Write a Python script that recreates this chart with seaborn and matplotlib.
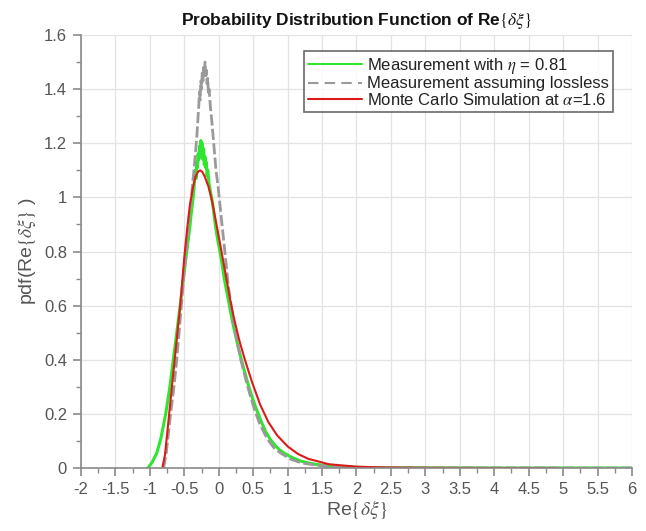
import numpy as np
import pandas as pd
import matplotlib
matplotlib.use("Agg")
import matplotlib.pyplot as plt
from matplotlib.ticker import MultipleLocator
import seaborn as sns

# ---- data ----
green_x = [-1.03, -0.97, -0.90, -0.84, -0.77, -0.71, -0.66, -0.60, -0.55, -0.50, -0.47, -0.44, -0.42, -0.40,
           -0.38, -0.36, -0.345, -0.33, -0.32, -0.31, -0.30, -0.29, -0.28, -0.27, -0.26, -0.25, -0.24, -0.23,
           -0.22, -0.21, -0.20, -0.19, -0.18, -0.17, -0.16, -0.14, -0.12, -0.09, -0.065, -0.045, -0.02, 0.035,
           0.08, 0.14, 0.20, 0.27, 0.34, 0.42, 0.48, 0.55, 0.62, 0.68, 0.75, 0.82, 0.88, 0.95, 1.02, 1.10,
           1.20, 1.30, 1.40, 1.55, 1.80, 2.10, 2.50, 3.00, 3.50, 4.00, 4.50, 5.00, 5.50, 6.00]
green_y = [0.00, 0.02, 0.055, 0.11, 0.20, 0.30, 0.40, 0.52, 0.62, 0.73, 0.79, 0.85, 0.89, 0.94,
           0.98, 1.03, 1.10, 1.07, 1.13, 1.11, 1.16, 1.14, 1.19, 1.15, 1.21, 1.17, 1.20, 1.14,
           1.18, 1.12, 1.15, 1.11, 1.13, 1.08, 1.10, 1.05, 1.02, 0.98, 0.93, 0.89, 0.85, 0.775,
           0.70, 0.62, 0.54, 0.46, 0.39, 0.315, 0.265, 0.215, 0.17, 0.135, 0.105, 0.083, 0.068, 0.055, 0.045, 0.035,
           0.025, 0.019, 0.014, 0.009, 0.004, 0.002, 0.001, 0.0005, 0.0003, 0.0002, 0.0001, 0.0001, 0.0, 0.0]

gray_x = [-0.80, -0.76, -0.70, -0.65, -0.61, -0.56, -0.51, -0.47, -0.43, -0.40, -0.38, -0.36, -0.335, -0.32,
          -0.30, -0.29, -0.28, -0.27, -0.26, -0.25, -0.24, -0.23, -0.22, -0.21, -0.20, -0.19, -0.18, -0.17,
          -0.16, -0.15, -0.14, -0.12, -0.10, -0.08, -0.06, -0.04, -0.01, 0.035, 0.08, 0.14, 0.20, 0.26, 0.32,
          0.40, 0.46, 0.52, 0.60, 0.70, 0.80, 0.90, 1.05, 1.20, 1.40, 1.60, 1.80, 2.20, 2.80, 3.50, 4.50,
          5.50, 6.00]
gray_y = [0.00, 0.06, 0.20, 0.30, 0.40, 0.55, 0.70, 0.805, 0.93, 0.99, 1.05, 1.10, 1.175, 1.22,
          1.30, 1.34, 1.39, 1.36, 1.43, 1.40, 1.46, 1.43, 1.48, 1.45, 1.50, 1.44, 1.47, 1.42,
          1.44, 1.38, 1.40, 1.33, 1.28, 1.22, 1.16, 1.10, 1.04, 0.93, 0.82, 0.67, 0.565, 0.475, 0.40,
          0.32, 0.265, 0.215, 0.16, 0.11, 0.075, 0.055, 0.032, 0.019, 0.011, 0.006, 0.003, 0.001, 0.0005, 0.0002,
          0.0001, 0.0, 0.0]

red_x = [-0.82, -0.78, -0.72, -0.64, -0.56, -0.50, -0.46, -0.42, -0.38, -0.34, -0.30, -0.27, -0.24, -0.20,
         -0.15, -0.10, -0.04, 0.04, 0.10, 0.16, 0.22, 0.30, 0.38, 0.48, 0.60, 0.72, 0.85, 1.00, 1.15, 1.30,
         1.60, 2.00, 2.40, 3.00, 4.00, 4.90]
red_y = [0.00, 0.05, 0.20, 0.40, 0.60, 0.78, 0.88, 0.97, 1.03, 1.075, 1.095, 1.10, 1.095, 1.075,
         1.04, 0.99, 0.91, 0.80, 0.715, 0.63, 0.555, 0.47, 0.40, 0.32, 0.235, 0.17, 0.12, 0.08, 0.052, 0.034,
         0.014, 0.005, 0.002, 0.0007, 0.0, 0.0]

labels = [r"Measurement with $\eta$ = 0.81",
          "Measurement assuming lossless",
          r"Monte Carlo Simulation at $\alpha$=1.6"]
x_ticks = [-2, -1.5, -1, -0.5, 0, 0.5, 1, 1.5, 2, 2.5, 3, 3.5, 4, 4.5, 5, 5.5, 6]
y_ticks = [0, 0.2, 0.4, 0.6, 0.8, 1, 1.2, 1.4, 1.6]

# ---- style ----
sns.set_theme(style="ticks")
plt.rcParams["font.family"] = ["Liberation Sans", "DejaVu Sans"]
plt.rcParams["mathtext.fontset"] = "stix"
plt.rcParams["axes.unicode_minus"] = False

fig = plt.figure(figsize=(6.46, 5.31), dpi=100)
ax = fig.add_axes([0.1254, 0.1186, 0.8529, 0.8154])

df_g = pd.DataFrame({"x": green_x, "y": green_y})
df_k = pd.DataFrame({"x": gray_x, "y": gray_y})
df_r = pd.DataFrame({"x": red_x, "y": red_y})

sns.lineplot(data=df_g, x="x", y="y", ax=ax, color="#2ee62e", lw=2.2, label=labels[0],
             sort=False, estimator=None)
sns.lineplot(data=df_k, x="x", y="y", ax=ax, color="#9a9a9a", lw=2.0, label=labels[1],
             sort=False, estimator=None, linestyle=(0, (4, 1.2)))
sns.lineplot(data=df_r, x="x", y="y", ax=ax, color="#dd1a1a", lw=1.5, label=labels[2],
             sort=False, estimator=None)

ax.set_xlim(-2, 6)
ax.set_ylim(0, 1.6)
ax.set_xticks(x_ticks)
ax.set_xticklabels([f"{t:g}" for t in x_ticks])
ax.set_yticks(y_ticks)
ax.set_yticklabels([f"{t:g}" for t in y_ticks])
ax.xaxis.set_minor_locator(MultipleLocator(0.25))
ax.yaxis.set_minor_locator(MultipleLocator(0.1))

tick_c = "#555555"
spine_c = "#8a8a8a"
ax.tick_params(axis="both", which="major", direction="out", length=6, width=1.2,
               color=spine_c, labelcolor=tick_c, labelsize=12, pad=4)
ax.tick_params(axis="both", which="minor", direction="out", length=3.5, width=1.0, color=spine_c)
for s in ["top", "right"]:
    ax.spines[s].set_visible(False)
for s in ["left", "bottom"]:
    ax.spines[s].set_color(spine_c)
    ax.spines[s].set_linewidth(1.2)

ax.grid(True, which="major", color="#e3e3e3", lw=0.9)
ax.set_axisbelow(True)

ax.set_xlabel(r"Re$\{\delta\xi\}$", fontsize=14, color="#555555", labelpad=1)
ax.set_ylabel(r"pdf(Re$\{\delta\xi\}$ )", fontsize=14, color="#555555", labelpad=4)
ax.set_title(r"Probability Distribution Function of Re$\{\delta\xi\}$", fontsize=12.5,
             fontweight="bold", color="#111111", pad=7)

leg = ax.legend(loc="upper right", bbox_to_anchor=(0.965, 0.962), fontsize=12,
                frameon=True, fancybox=False, edgecolor="#444444", handlelength=3.2,
                handletextpad=0.3, borderpad=0.25, labelspacing=0.05, borderaxespad=0)
leg.get_frame().set_linewidth(1.2)
leg.get_lines()[1].set_linestyle((0, (5, 3)))
leg.get_lines()[1].set_linewidth(1.5)
for ln in leg.get_lines():
    ln.set_linewidth(1.5)
for t in leg.get_texts():
    t.set_color("#222222")

fig.savefig("out.png", dpi=100, facecolor="white")
